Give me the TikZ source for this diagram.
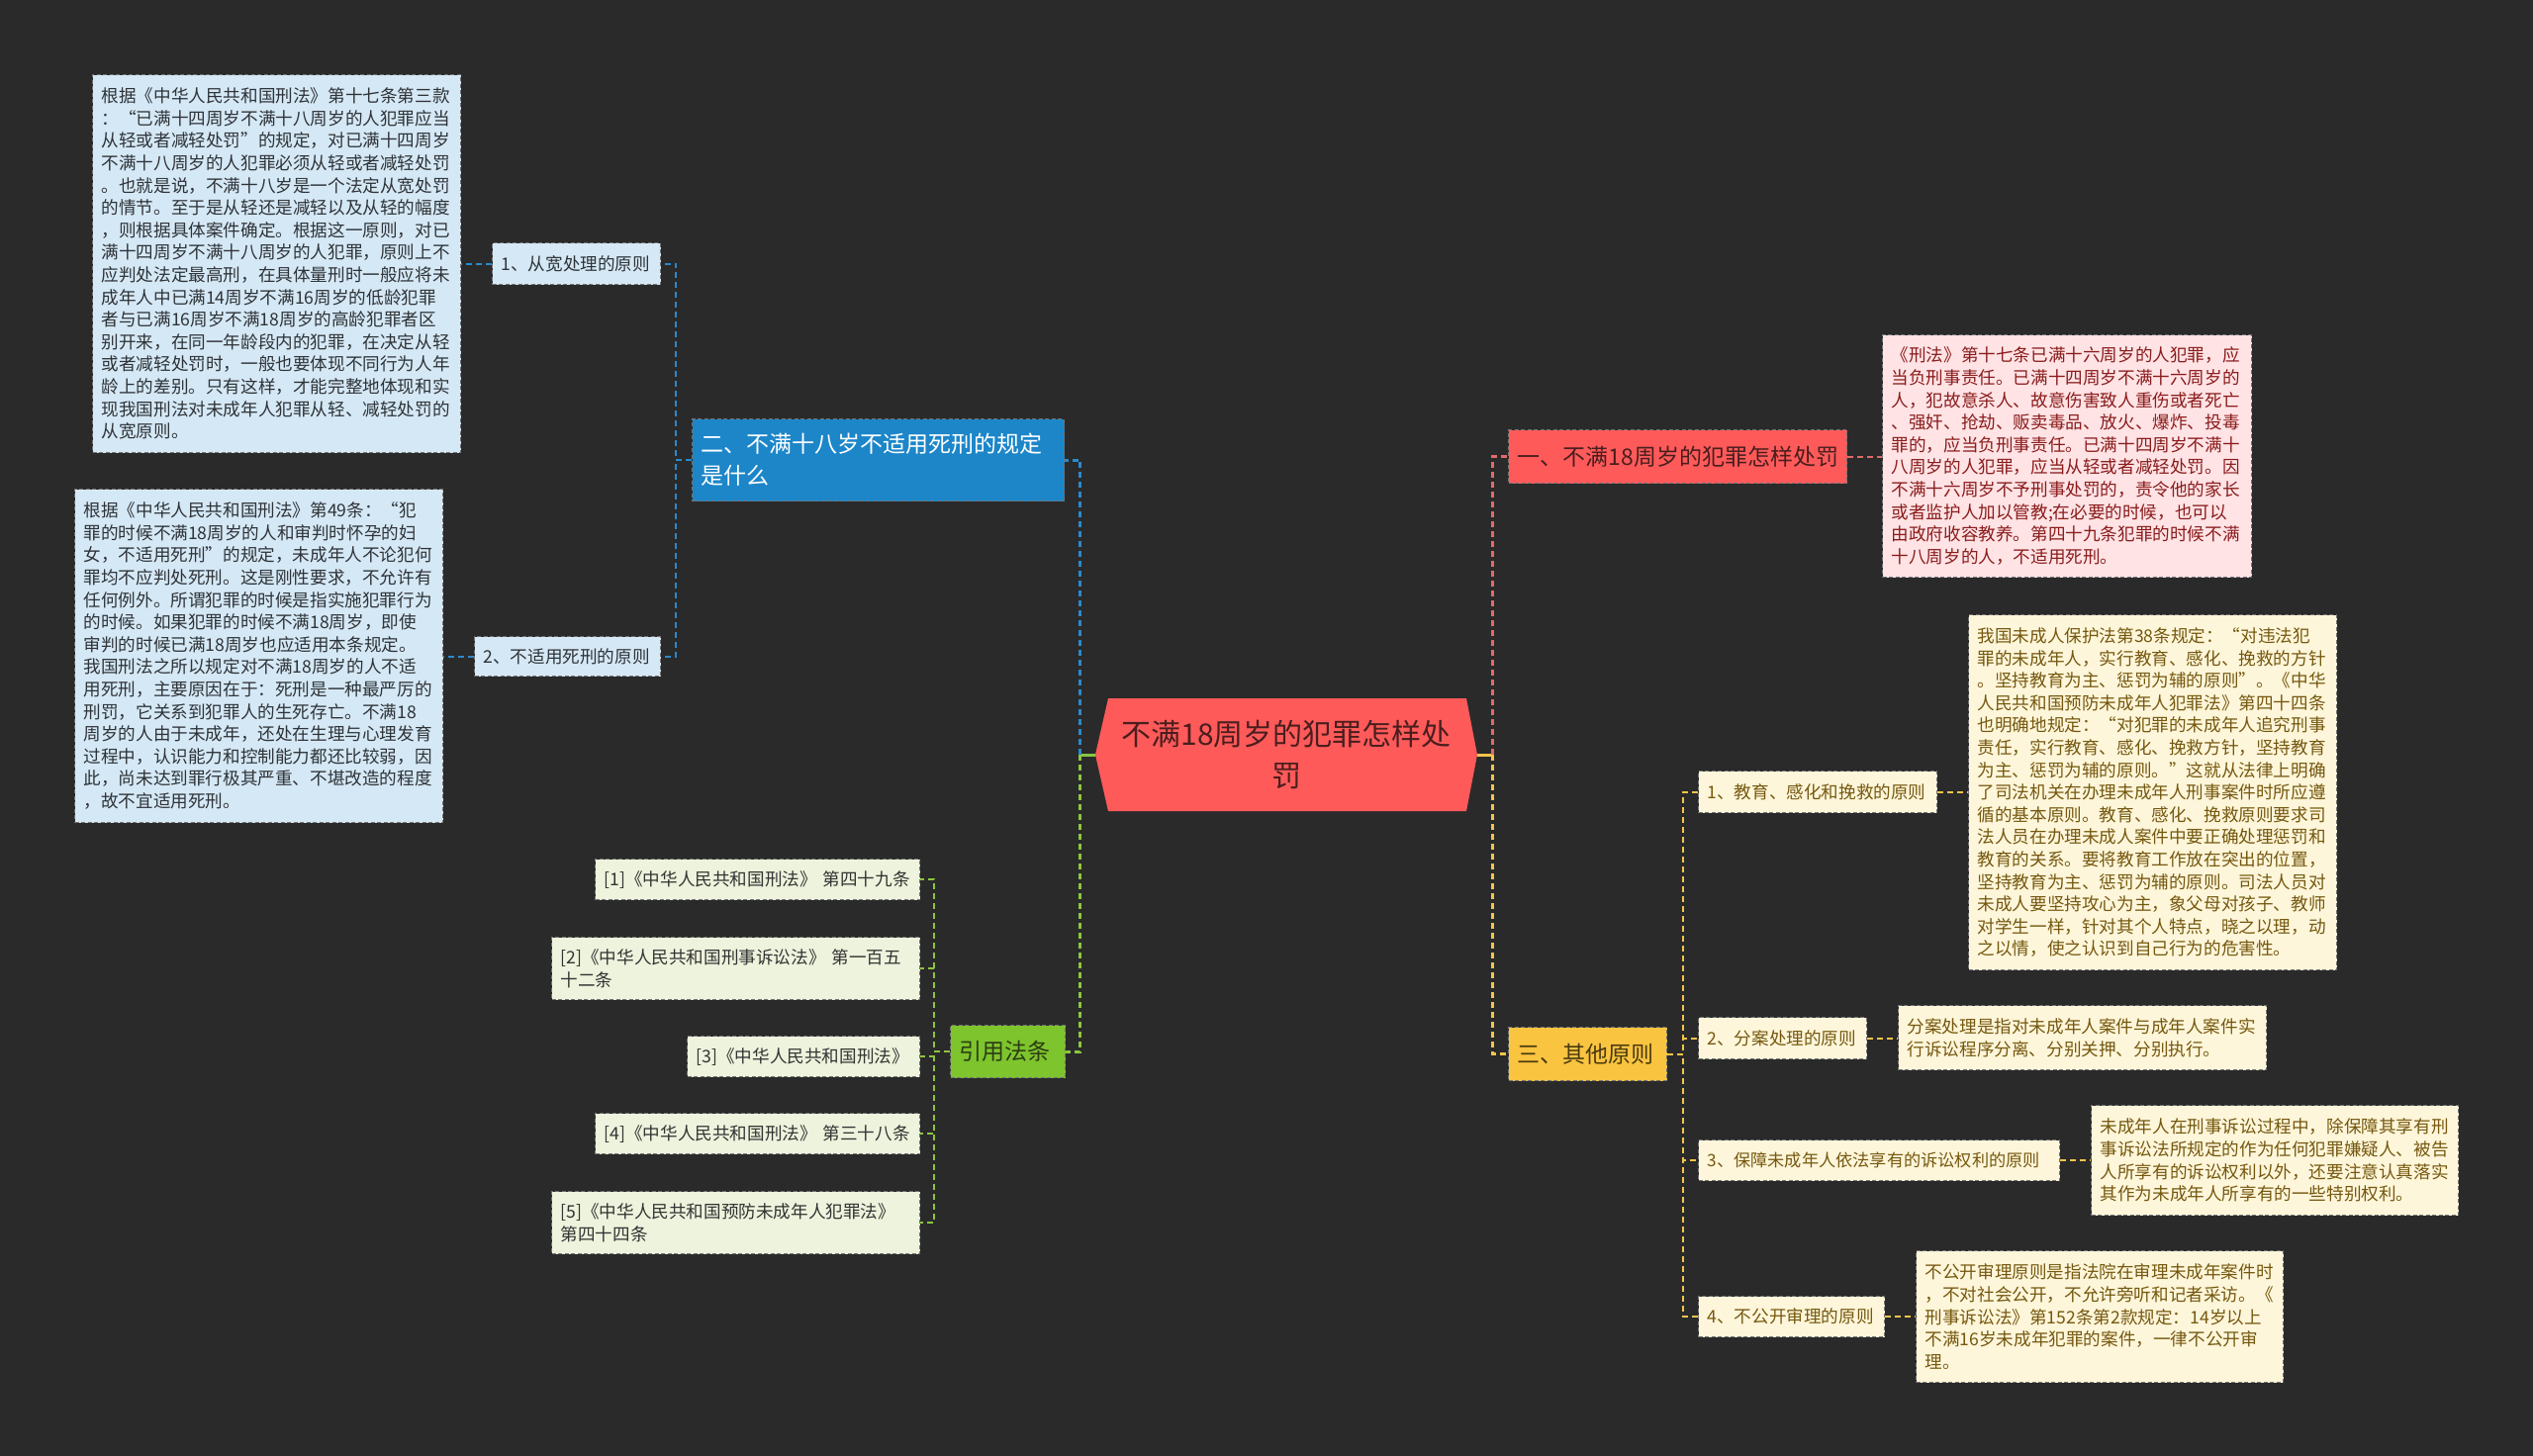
\documentclass[tikz,border=0pt]{standalone}
\usepackage{fontspec}
\newfontfamily\cjkf{Noto Sans CJK SC}
\usetikzlibrary{calc}
\definecolor{bgc}{HTML}{2A2A2A}
\definecolor{redfill}{HTML}{FF5A5A}
\definecolor{redtext}{HTML}{4A1E1E}
\definecolor{bluefill}{HTML}{1C86C9}
\definecolor{greenfill}{HTML}{7DC42D}
\definecolor{greentext}{HTML}{2C3C12}
\definecolor{yellowfill}{HTML}{F9C440}
\definecolor{yellowtext}{HTML}{4A3A10}
\definecolor{lbfill}{HTML}{D5E8F5}
\definecolor{lbtext}{HTML}{2E3338}
\definecolor{pkfill}{HTML}{FFE3E5}
\definecolor{pktext}{HTML}{8A1C1C}
\definecolor{crfill}{HTML}{FEF6DA}
\definecolor{crtext}{HTML}{75580F}
\definecolor{ctfill}{HTML}{EDF3DC}
\definecolor{cttext}{HTML}{333333}
\definecolor{lineblue}{HTML}{2B89CD}
\definecolor{linegreen}{HTML}{8CC63F}
\definecolor{linered}{HTML}{E26A6A}
\definecolor{lineyellow}{HTML}{F4C54A}
\tikzset{
  bord/.style={draw=black!55, line width=1.2pt, dash pattern=on 4pt off 2.5pt},
  mysmall/.style={bord, font=\cjkf\fontsize{17.6}{22.6}\selectfont, align=left},
  lbbox/.style={mysmall, fill=lbfill, text=lbtext},
  pkbox/.style={mysmall, fill=pkfill, text=pktext},
  crbox/.style={mysmall, fill=crfill, text=crtext},
  ctbox/.style={mysmall, fill=ctfill, text=cttext},
  mybig/.style={bord, font=\cjkf\fontsize{23}{32}\selectfont, align=left},
  bigred/.style={mybig, fill=redfill, text=redtext},
  bigblue/.style={mybig, fill=bluefill, text=white},
  biggreen/.style={mybig, fill=greenfill, text=greentext},
  bigyellow/.style={mybig, fill=yellowfill, text=yellowtext},
  mainln/.style={line width=3pt, dash pattern=on 6pt off 4pt},
  subln/.style={line width=2pt, dash pattern=on 6pt off 4pt},
}
\newcommand\mybox[7]{%
  \pgfmathsetmacro\mybw{#4-#2}%
  \pgfmathsetmacro\mybh{#5-#3}%
  \pgfmathsetmacro\mytw{#4-#2-18}%
  \node[#6, anchor=north west, minimum width=\mybw pt, minimum height=\mybh pt,
        text width=\mytw pt, inner xsep=9pt, inner ysep=0pt] (#1) at (#2,#3) {#7};}
\begin{document}
\begin{tikzpicture}[x=1pt,y=-1pt]
\useasboundingbox (0,0) rectangle (2560,1472);
\fill[bgc] (0,0) rectangle (2560,1472);

% central topic
\fill[redfill] (1120,706) -- (1482,706) -- (1493,763) -- (1482,820) -- (1120,820) -- (1107,763) -- cycle;
\node[font=\cjkf\fontsize{30}{42}\selectfont, text=redtext, align=center,
      minimum width=386pt, minimum height=114pt, inner sep=0pt] (C) at (1300,763)
      {不满18周岁的犯罪怎样处\\罚};

% level 1
\mybox{R1}{1524}{434}{1866}{488}{bigred}{一、不满18周岁的犯罪怎样处罚}
\mybox{L1}{699}{423}{1075}{506}{bigblue}{二、不满十八岁不适用死刑的规定\\是什么}
\mybox{L2}{960}{1036}{1076}{1089}{biggreen}{引用法条}
\mybox{R2}{1524}{1038}{1684}{1092}{bigyellow}{三、其他原则}

% left branch
\mybox{A1}{497}{245}{667}{287}{lbbox}{1、从宽处理的原则}
\mybox{A2}{479}{643}{667}{683}{lbbox}{2、不适用死刑的原则}
\mybox{T1}{93}{75}{465}{457}{lbbox}{根据《中华人民共和国刑法》第十七条第三款\\
：“已满十四周岁不满十八周岁的人犯罪应当\\
从轻或者减轻处罚”的规定，对已满十四周岁\\
不满十八周岁的人犯罪必须从轻或者减轻处罚\\
。也就是说，不满十八岁是一个法定从宽处罚\\
的情节。至于是从轻还是减轻以及从轻的幅度\\
，则根据具体案件确定。根据这一原则，对已\\
满十四周岁不满十八周岁的人犯罪，原则上不\\
应判处法定最高刑，在具体量刑时一般应将未\\
成年人中已满14周岁不满16周岁的低龄犯罪\\
者与已满16周岁不满18周岁的高龄犯罪者区\\
别开来，在同一年龄段内的犯罪，在决定从轻\\
或者减轻处罚时，一般也要体现不同行为人年\\
龄上的差别。只有这样，才能完整地体现和实\\
现我国刑法对未成年人犯罪从轻、减轻处罚的\\
从宽原则。}
\mybox{T2}{75}{494}{447}{831}{lbbox}{根据《中华人民共和国刑法》第49条：“犯\\
罪的时候不满18周岁的人和审判时怀孕的妇\\
女，不适用死刑”的规定，未成年人不论犯何\\
罪均不应判处死刑。这是刚性要求，不允许有\\
任何例外。所谓犯罪的时候是指实施犯罪行为\\
的时候。如果犯罪的时候不满18周岁，即使\\
审判的时候已满18周岁也应适用本条规定。\\
我国刑法之所以规定对不满18周岁的人不适\\
用死刑，主要原因在于：死刑是一种最严厉的\\
刑罚，它关系到犯罪人的生死存亡。不满18\\
周岁的人由于未成年，还处在生理与心理发育\\
过程中，认识能力和控制能力都还比较弱，因\\
此，尚未达到罪行极其严重、不堪改造的程度\\
，故不宜适用死刑。}

% citations
\mybox{C1}{601}{868}{929}{909}{ctbox}{[1]《中华人民共和国刑法》~第四十九条}
\mybox{C2}{557}{947}{929}{1010}{ctbox}{[2]《中华人民共和国刑事诉讼法》~第一百五\\十二条}
\mybox{C3}{694}{1047}{929}{1088}{ctbox}{[3]《中华人民共和国刑法》}
\mybox{C4}{601}{1125}{929}{1166}{ctbox}{[4]《中华人民共和国刑法》~第三十八条}
\mybox{C5}{557}{1204}{929}{1267}{ctbox}{[5]《中华人民共和国预防未成年人犯罪法》\\第四十四条}

% right branch 1
\mybox{P}{1902}{338}{2275}{583}{pkbox}{《刑法》第十七条已满十六周岁的人犯罪，应\\
当负刑事责任。已满十四周岁不满十六周岁的\\
人，犯故意杀人、故意伤害致人重伤或者死亡\\
、强奸、抢劫、贩卖毒品、放火、爆炸、投毒\\
罪的，应当负刑事责任。已满十四周岁不满十\\
八周岁的人犯罪，应当从轻或者减轻处罚。因\\
不满十六周岁不予刑事处罚的，责令他的家长\\
或者监护人加以管教;在必要的时候，也可以\\
由政府收容教养。第四十九条犯罪的时候不满\\
十八周岁的人，不适用死刑。}

% right branch 3
\mybox{K1}{1716}{779}{1957}{821}{crbox}{1、教育、感化和挽救的原则}
\mybox{K2}{1716}{1028}{1886}{1070}{crbox}{2、分案处理的原则}
\mybox{K3}{1716}{1152}{2081}{1193}{crbox, font=\cjkf\fontsize{17.2}{22.6}\selectfont}{3、保障未成年人依法享有的诉讼权利的原则}
\mybox{K4}{1716}{1310}{1904}{1351}{crbox}{4、不公开审理的原则}
\mybox{Y1}{1989}{621}{2361}{980}{crbox}{我国未成人保护法第38条规定：“对违法犯\\
罪的未成年人，实行教育、感化、挽救的方针\\
。坚持教育为主、惩罚为辅的原则”。《中华\\
人民共和国预防未成年人犯罪法》第四十四条\\
也明确地规定：“对犯罪的未成年人追究刑事\\
责任，实行教育、感化、挽救方针，坚持教育\\
为主、惩罚为辅的原则。”这就从法律上明确\\
了司法机关在办理未成年人刑事案件时所应遵\\
循的基本原则。教育、感化、挽救原则要求司\\
法人员在办理未成人案件中要正确处理惩罚和\\
教育的关系。要将教育工作放在突出的位置，\\
坚持教育为主、惩罚为辅的原则。司法人员对\\
未成人要坚持攻心为主，象父母对孩子、教师\\
对学生一样，针对其个人特点，晓之以理，动\\
之以情，使之认识到自己行为的危害性。}
\mybox{Y2}{1918}{1016}{2290}{1081}{crbox}{分案处理是指对未成年人案件与成年人案件实\\
行诉讼程序分离、分别关押、分别执行。}
\mybox{Y3}{2113}{1117}{2484}{1228}{crbox}{未成年人在刑事诉讼过程中，除保障其享有刑\\
事诉讼法所规定的作为任何犯罪嫌疑人、被告\\
人所享有的诉讼权利以外，还要注意认真落实\\
其作为未成年人所享有的一些特别权利。}
\mybox{Y4}{1936}{1264}{2307}{1397}{crbox}{不公开审理原则是指法院在审理未成年案件时\\
，不对社会公开，不允许旁听和记者采访。《\\
刑事诉讼法》第152条第2款规定：14岁以上\\
不满16岁未成年犯罪的案件，一律不公开审\\
理。}

% connectors from the centre
\coordinate (cl) at ($(C.west)+(-15,0)$);
\coordinate (cr) at ($(C.east)+(15,0)$);
\draw[linegreen, line width=3pt] (C.west) -- (cl);
\draw[lineyellow, line width=3pt] (C.east) -- (cr);
\draw[mainln, lineblue] (cl) |- (L1.east);
\draw[mainln, linegreen] (cl) |- (L2.east);
\draw[mainln, linered] (cr) |- (R1.west);
\draw[mainln, lineyellow] (cr) |- (R2.west);

% left branch connectors
\foreach \k in {A1,A2}{\draw[subln, lineblue] (L1.west) -- ++(-16,0) |- (\k.east);}
\draw[subln, lineblue] (A1.west) -- (A1.west -| T1.east);
\draw[subln, lineblue] (A2.west) -- (A2.west -| T2.east);

% citation connectors
\foreach \k in {C1,C2,C3,C4,C5}{\draw[subln, linegreen] (L2.west) -- ++(-16,0) |- (\k.east);}

% right branch connectors
\draw[subln, linered] (R1.east) -- (R1.east -| P.west);
\foreach \k in {K1,K2,K3,K4}{\draw[subln, lineyellow] (R2.east) -- ++(16,0) |- (\k.west);}
\draw[subln, lineyellow] (K1.east) -- (K1.east -| Y1.west);
\draw[subln, lineyellow] (K2.east) -- (K2.east -| Y2.west);
\draw[subln, lineyellow] (K3.east) -- (K3.east -| Y3.west);
\draw[subln, lineyellow] (K4.east) -- (K4.east -| Y4.west);
\end{tikzpicture}
\end{document}
